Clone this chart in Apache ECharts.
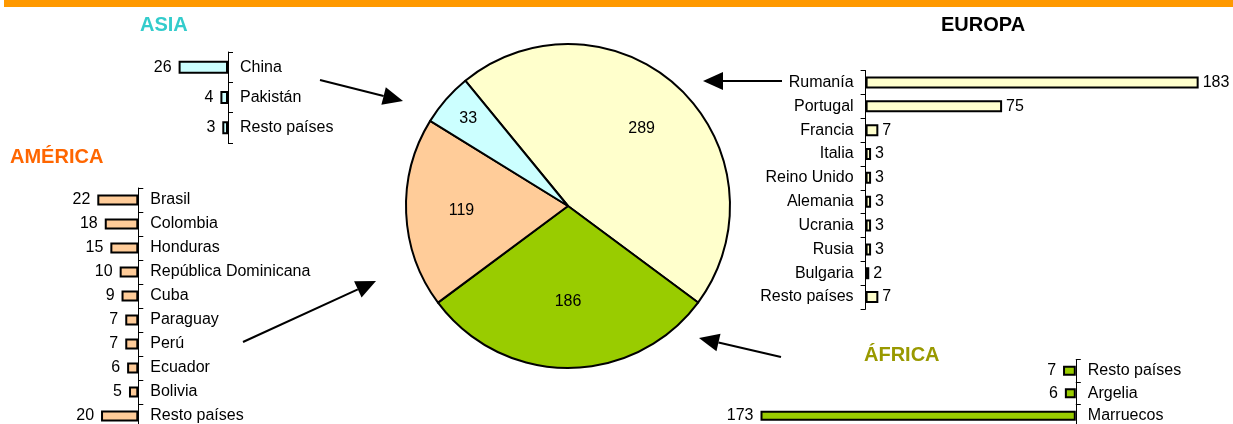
<!DOCTYPE html>
<html>
<head>
<meta charset="utf-8">
<script src="https://cdn.jsdelivr.net/npm/echarts@6/dist/echarts.min.js"></script>
<style>
  html, body { margin: 0; padding: 0; background: #fff; }
  #chart { width: 1233px; height: 424px; }
</style>
</head>
<body>
<div id="chart"></div>
<script>
// totales por continente (tarta)
const regionNames = ['Europa', 'África', 'América', 'Asia']
const regionValues = [289, 186, 119, 33]
const regionColors = ['#FFFFCC', '#99CC00', '#FFCC99', '#CCFFFF']

const asiaNames = ['China', 'Pakistán', 'Resto países']
const asiaValues = [26, 4, 3]

const americaNames = ['Brasil', 'Colombia', 'Honduras', 'República Dominicana', 'Cuba',
    'Paraguay', 'Perú', 'Ecuador', 'Bolivia', 'Resto países']
const americaValues = [22, 18, 15, 10, 9, 7, 7, 6, 5, 20]

const europaNames = ['Rumanía', 'Portugal', 'Francia', 'Italia', 'Reino Unido',
    'Alemania', 'Ucrania', 'Rusia', 'Bulgaria', 'Resto países']
const europaValues = [183, 75, 7, 3, 3, 3, 3, 3, 2, 7]

const africaNames = ['Resto países', 'Argelia', 'Marruecos']
const africaValues = [7, 6, 173]

const FONT = '"Liberation Sans", Arial, sans-serif'

const chart = echarts.init(document.getElementById('chart'))

// pie geometry
const PIE_R = 162
const START = 129.35
const total = regionValues.reduce((a, b) => a + b, 0)
const midAngles = []
let acc = START
regionValues.forEach(v => {
    const span = v / total * 360
    midAngles.push((acc - span / 2) * Math.PI / 180)
    acc -= span
})
const labelRadius = [0.64, 0.57, 0.64, 0.8] // fraction of radius, like the excel chart

// one small bar panel
const panel = (i, names, values, color, opt) => {
    const grid = { left: opt.left, top: opt.top, width: opt.width, height: opt.height, outerBoundsMode: 'none', containLabel: false }
    const xAxis = { type: 'value', gridIndex: i, min: 0, max: opt.max, inverse: opt.inverse, show: false, splitLine: { show: false } }
    const yAxis = {
        type: 'category', gridIndex: i, data: names, inverse: true,
        position: opt.side,
        axisLine: { show: true, onZero: false, lineStyle: { color: '#000', width: 1 } },
        axisTick: { show: true, length: 5, lineStyle: { color: '#000' } },
        axisLabel: { interval: 0, margin: 12, fontSize: 16, color: '#000', fontFamily: FONT },
        splitLine: { show: false }
    }
    const series = {
        type: 'bar', xAxisIndex: i, yAxisIndex: i, data: values,
        barWidth: opt.barWidth, silent: true,
        itemStyle: { color: color, borderColor: '#000', borderWidth: 2 },
        label: { show: true, position: 'outside', distance: opt.distance, fontSize: 16, color: '#000', fontFamily: FONT }
    }
    return { grid, xAxis, yAxis, series }
}

const panels = [
    panel(0, asiaNames, asiaValues, '#CCFFFF', { left: 171, top: 52, width: 57, height: 91, max: 30, inverse: true, side: 'right', barWidth: 13, distance: 7 }),
    panel(1, americaNames, americaValues, '#FFCC99', { left: 82.4, top: 188, width: 55.9, height: 240, max: 30, inverse: true, side: 'right', barWidth: 11, distance: 7 }),
    panel(2, europaNames, europaValues, '#FFFFCC', { left: 865.6, top: 70.5, width: 364, height: 238.5, max: 200, inverse: false, side: 'left', barWidth: 12, distance: 4 }),
    panel(3, africaNames, africaValues, '#99CC00', { left: 711.3, top: 359.5, width: 364.5, height: 67.5, max: 200, inverse: true, side: 'right', barWidth: 10, distance: 7 })
]

const arrow = (x1, y1, x2, y2) => {
    const a = Math.atan2(y2 - y1, x2 - x1)
    const len = 20, hw = 9
    const bx = x2 - len * Math.cos(a), by = y2 - len * Math.sin(a)
    const px = -Math.sin(a) * hw, py = Math.cos(a) * hw
    return {
        type: 'group', silent: true,
        children: [
            { type: 'line', shape: { x1: x1, y1: y1, x2: bx, y2: by }, style: { stroke: '#000', lineWidth: 2 } },
            { type: 'polygon', shape: { points: [[x2, y2], [bx + px, by + py], [bx - px, by - py]] }, style: { fill: '#000' } }
        ]
    }
}

const heading = (text, x, y, color) => ({
    type: 'text', x: x, y: y, silent: true,
    style: { text: text, fill: color, font: 'bold 20px ' + FONT, verticalAlign: 'middle', align: 'left' }
})

const option = {
    animation: false,
    grid: panels.map(p => p.grid),
    xAxis: panels.map(p => p.xAxis),
    yAxis: panels.map(p => p.yAxis),
    series: [
        ...panels.map(p => p.series),
        {
            type: 'pie',
            center: [568, 206],
            radius: PIE_R,
            startAngle: START,
            clockwise: true,
            silent: true,
            avoidLabelOverlap: false,
            data: regionNames.map((n, i) => ({ name: n, value: regionValues[i], itemStyle: { color: regionColors[i] } })),
            itemStyle: { borderColor: '#000', borderWidth: 2 },
            label: { show: true, position: 'inside', formatter: '{c}', fontSize: 16, color: '#000', fontFamily: FONT },
            labelLine: { show: false },
            labelLayout: (p) => {
                const i = p.dataIndex
                const extra = (labelRadius[i] - 0.5) * PIE_R
                return { dx: extra * Math.cos(midAngles[i]), dy: -extra * Math.sin(midAngles[i]) }
            }
        }
    ],
    graphic: [
        { type: 'rect', shape: { x: 4, y: 0, width: 1229, height: 7 }, style: { fill: '#FF9900' }, silent: true },
        heading('ASIA', 140, 25, '#33CCCC'),
        heading('AMÉRICA', 10, 157, '#FF6600'),
        heading('EUROPA', 941, 25, '#000000'),
        heading('ÁFRICA', 864, 355, '#999900'),
        arrow(320, 80, 403, 101),
        arrow(243, 342, 376, 281),
        arrow(782, 81, 703, 81),
        arrow(781, 357, 699, 338)
    ]
}

chart.setOption(option)
window.addEventListener('resize', () => chart.resize())
</script>
</body>
</html>
